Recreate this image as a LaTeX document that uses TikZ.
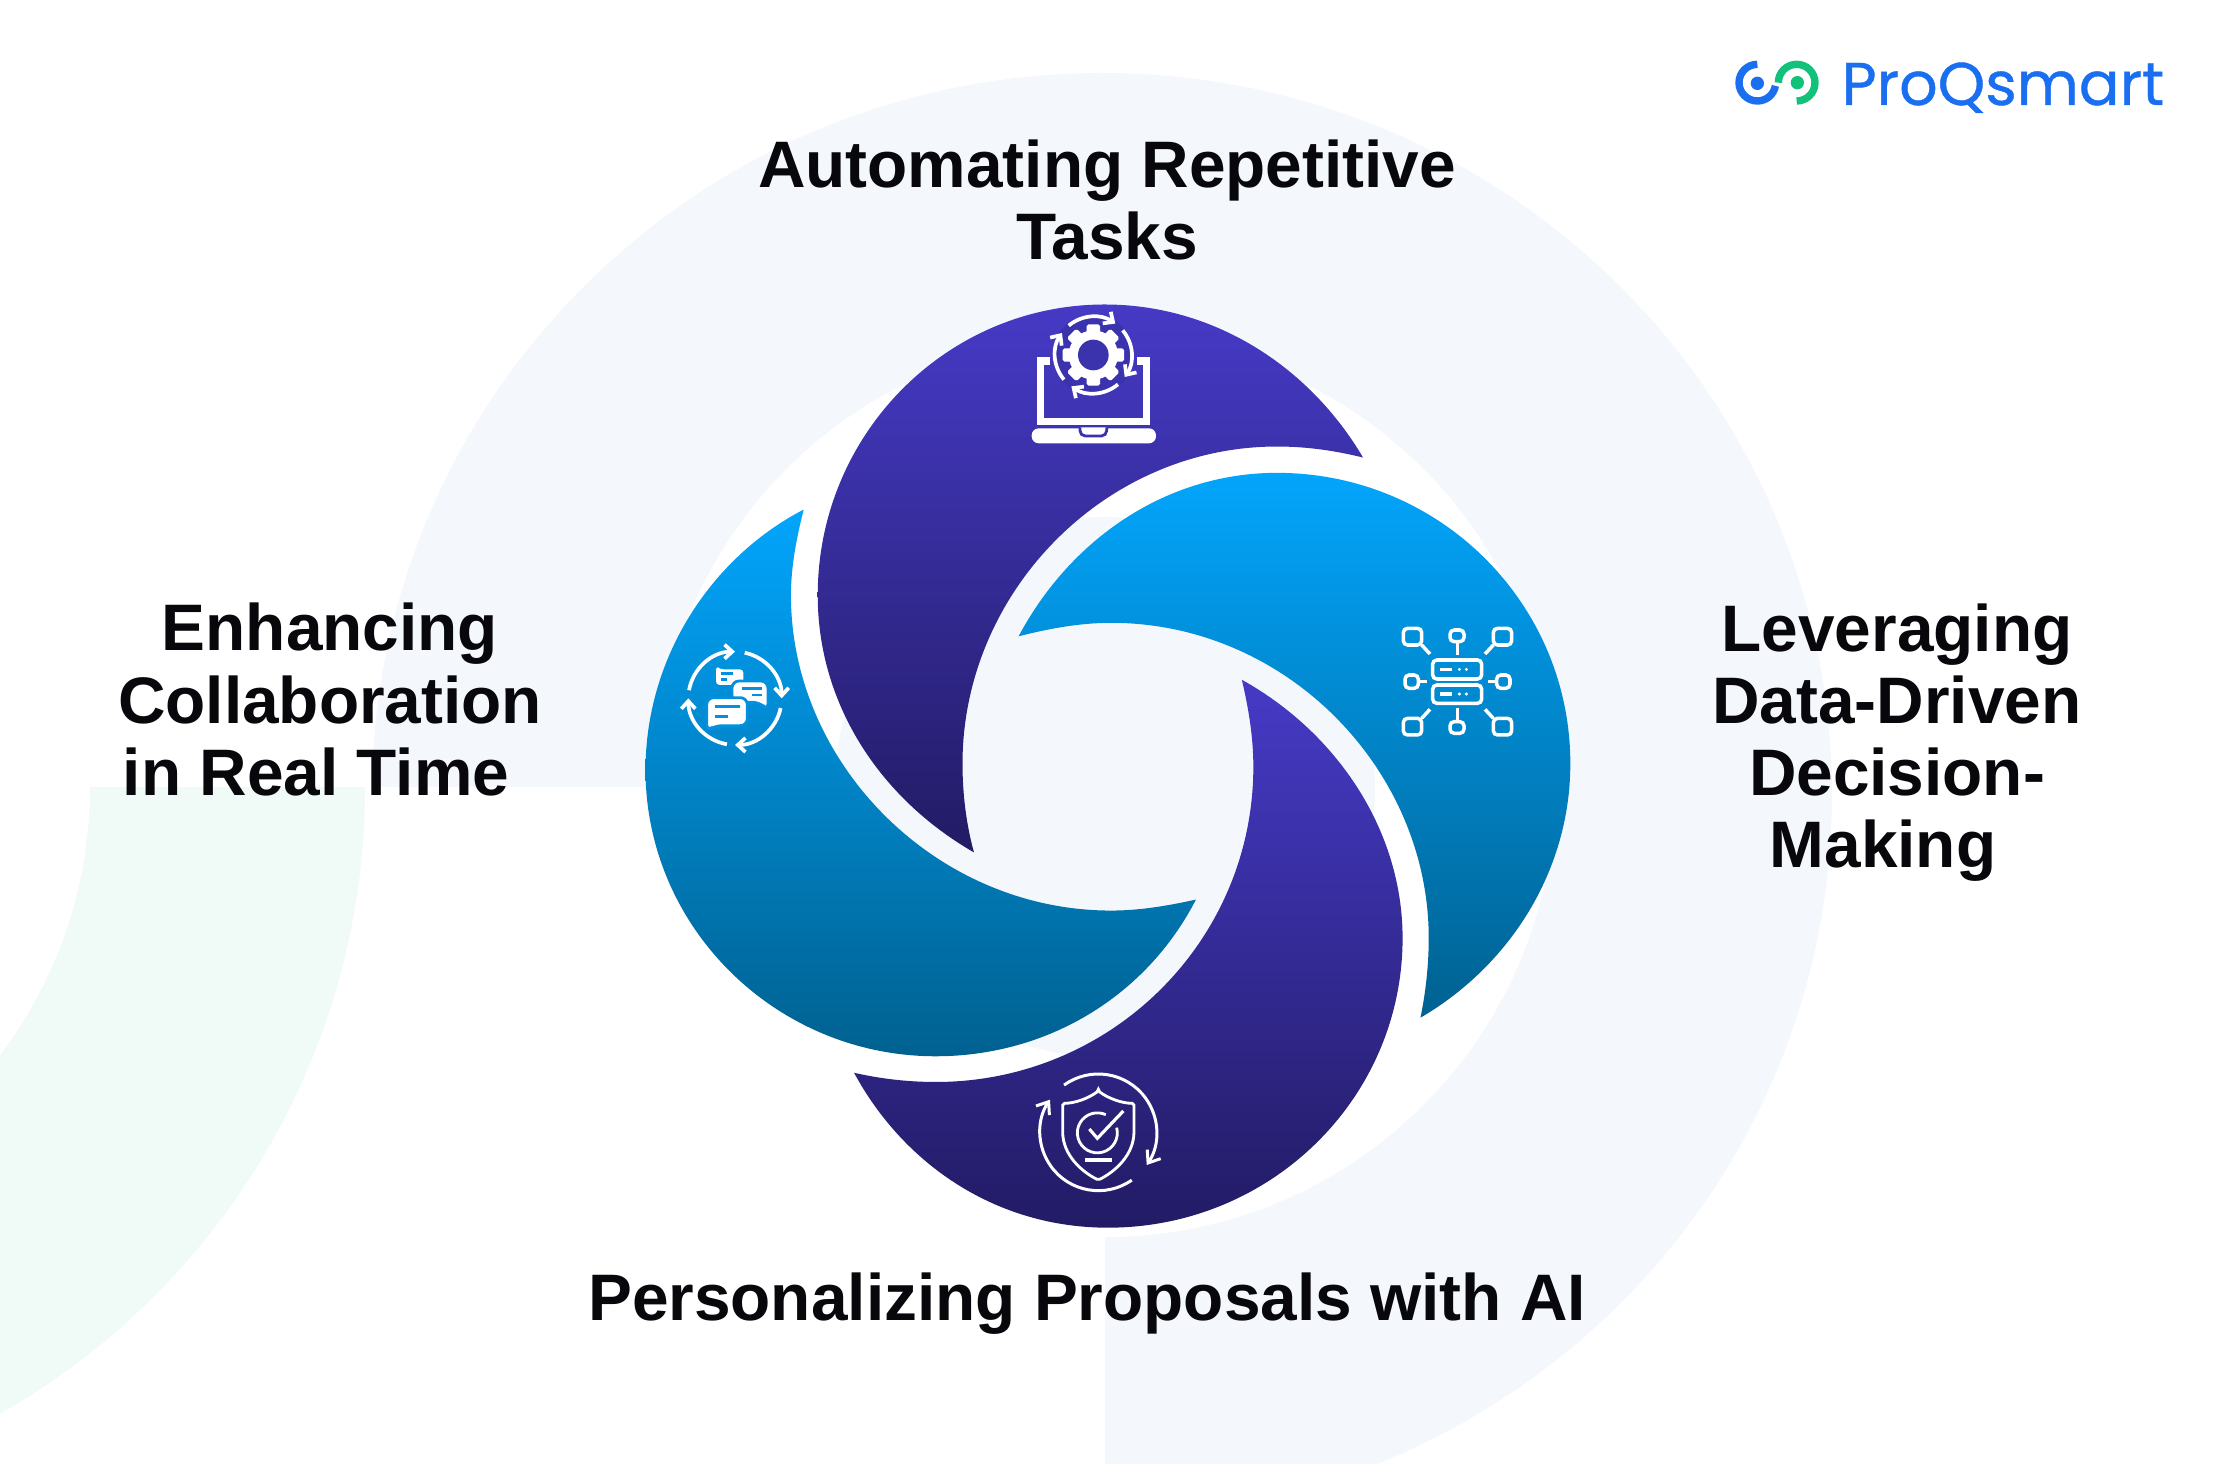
\documentclass[tikz,border=0pt]{standalone}
\usepackage{fontspec}
\setmainfont{Liberation Sans}
\newfontfamily\logofont[FakeBold=0.7]{Poppins}
\usepackage{xcolor}
\usetikzlibrary{arrows.meta}
\definecolor{palebg}{HTML}{F4F8FD}
\definecolor{greenbg}{HTML}{F0FAF7}
\definecolor{purplehi}{HTML}{463AC6}
\definecolor{purplelo}{HTML}{221B64}
\definecolor{cyanhi}{HTML}{02A5FC}
\definecolor{cyanlo}{HTML}{006190}
\definecolor{cyanmid}{HTML}{0490DE}
\definecolor{purplemid}{HTML}{3B32AE}
\definecolor{logoblue}{HTML}{1A6EF0}
\definecolor{logogreen}{HTML}{12C27A}
\definecolor{ink}{HTML}{08080C}
\tikzset{
  lab/.style={text=ink, font=\bfseries\fontsize{18.7}{20.5}\selectfont, align=center, inner sep=0pt},
  purpleblob/.style={top color=purplehi, bottom color=purplelo},
  cyanblob/.style={top color=cyanhi, bottom color=cyanlo},
  hub/.style={shift={(620,280)}, xscale=0.6378, yscale=0.6122},
  icon/.style={shift={#1}, scale=0.3333},
  heavyline/.style={draw=white, line width=2.1pt},
  iconline/.style={draw=white, line width=1pt, rounded corners=1.2pt},
  circarrow/.style={draw=white, line width=1.05pt, -{Straight Barb[length=2.2pt,width=4pt]}},
  thinarrow/.style={draw=white, line width=0.85pt, -{Straight Barb[length=3pt,width=4.6pt]}},
}
\begin{document}
\begin{tikzpicture}[x=0.01cm, y=-0.01cm]
  \useasboundingbox (0,0) rectangle (2215,1464);
  \clip (0,0) rectangle (2215,1464);
  % background rings
  \fill[palebg] (1102,795) ellipse [x radius=730, y radius=722];
  \fill[white] (0,787) rectangle (1105,1464);
  \fill[greenbg] (365,787) arc[start angle=0, end angle=90, radius=720]
    -- (-355,1232) arc[start angle=90, end angle=0, radius=445] -- cycle;
  \fill[white] (1105,787) circle [radius=450];
  \fill[palebg] (1105,787) circle [radius=270];
  % four blobs
  \begin{scope}[hub]
    \shade[purpleblob] (1165,290) .. controls (1080,140) and (930,40) .. (760,40)
      .. controls (512,40) and (310,252) .. (310,515)
      .. controls (310,690) and (405,845) .. (555,935)
      .. controls (543,890) and (537,840) .. (537,790)
      .. controls (537,510) and (760,272) .. (1030,272)
      .. controls (1078,272) and (1122,279) .. (1165,290) -- cycle;
    \shade[cyanblob] (625,582) .. controls (705,425) and (855,315) .. (1030,315)
      .. controls (1285,315) and (1490,528) .. (1490,790)
      .. controls (1490,965) and (1395,1120) .. (1255,1205)
      .. controls (1263,1165) and (1268,1120) .. (1268,1075)
      .. controls (1268,800) and (1045,560) .. (770,560)
      .. controls (720,560) and (670,570) .. (625,582) -- cycle;
    \shade[purpleblob] (975,653) .. controls (1125,740) and (1227,900) .. (1227,1075)
      .. controls (1227,1337) and (1020,1548) .. (765,1548)
      .. controls (590,1548) and (445,1445) .. (367,1295)
      .. controls (410,1305) and (452,1310) .. (495,1310)
      .. controls (770,1310) and (993,1080) .. (993,795)
      .. controls (993,745) and (985,698) .. (975,653) -- cycle;
    \shade[cyanblob] (288,375) .. controls (140,455) and (40,620) .. (40,800)
      .. controls (40,1058) and (245,1268) .. (495,1268)
      .. controls (670,1268) and (825,1170) .. (903,1012)
      .. controls (860,1022) and (815,1030) .. (770,1030)
      .. controls (495,1030) and (268,790) .. (268,515)
      .. controls (268,468) and (277,420) .. (288,375) -- cycle;
  \end{scope}
  % laptop with gear
  \begin{scope}[icon={(1000,290)}]
    \draw[heavyline] (150,213) -- (121,213) -- (121,395) -- (439,395) -- (439,213) -- (410,213);
    \fill[white, rounded corners=2pt] (95,415) -- (468,415) -- (468,460) -- (95,460) -- cycle;
    \draw[draw=purplemid, fill=white, line width=0.8pt, rounded corners=1.5pt] (240,412) -- (240,438) -- (320,438) -- (320,412);
    \fill[purplemid] (280,195) circle [radius=122];
    \begin{scope}[shift={(280,195)}]
      \foreach \a in {0,45,...,315}
        \fill[white, rotate=\a, rounded corners=0.5pt] (-20,-92) rectangle (20,0);
      \fill[white] (0,0) circle [radius=74];
      \fill[purplemid] (0,0) circle [radius=46];
      \foreach \a in {230,320,50,140}
        \draw[circarrow] (\a:115) arc[start angle=\a, delta angle=75, radius=115];
    \end{scope}
  \end{scope}
  % server with linked boxes
  \begin{scope}[icon={(1380,600)}]
    \draw[iconline] (158,180) rectangle (305,237);
    \draw[iconline] (158,255) rectangle (305,310);
    \draw[iconline] (180,208) -- (215,208);
    \draw[iconline] (180,282) -- (215,282);
    \foreach \y in {208,282} {
      \fill[white] (238,\y) circle [radius=5];
      \fill[white] (259,\y) circle [radius=5];
    }
    \draw[iconline] (70,85) rectangle (125,135);
    \draw[iconline] (210,90) rectangle (252,125);
    \draw[iconline] (340,85) rectangle (395,135);
    \draw[iconline] (75,225) rectangle (115,265);
    \draw[iconline] (350,225) rectangle (390,265);
    \draw[iconline] (70,355) rectangle (125,405);
    \draw[iconline] (210,365) rectangle (252,400);
    \draw[iconline] (340,355) rectangle (395,405);
    \draw[iconline] (125,135) -- (150,162);
    \draw[iconline] (232,125) -- (232,165);
    \draw[iconline] (340,135) -- (315,162);
    \draw[iconline] (115,245) -- (140,245);
    \draw[iconline] (350,245) -- (325,245);
    \draw[iconline] (125,355) -- (150,328);
    \draw[iconline] (232,365) -- (232,325);
    \draw[iconline] (340,355) -- (315,328);
  \end{scope}
  % chat bubbles in a loop of arrows
  \begin{scope}[icon={(660,630)}]
    \begin{scope}[shift={(225,205)}]
      \foreach \a/\d in {190/80,282/78,12/78,100/80}
        \draw[circarrow] (\a:140) arc[start angle=\a, delta angle=\d, radius=140];
    \end{scope}
    \fill[white, rounded corners=1pt] (168,108) -- (180,118) -- (250,118) -- (250,165) -- (168,165) -- cycle;
    \draw[draw=cyanmid, line width=0.7pt] (182,130) -- (218,130);
    \draw[draw=cyanmid, line width=0.7pt] (182,148) -- (200,148);
    \draw[draw=cyanmid, fill=white, line width=0.8pt, rounded corners=2pt] (216,153) -- (324,153) -- (324,242) -- (300,217) -- (216,217) -- cycle;
    \draw[draw=cyanmid, line width=0.7pt] (245,175) -- (305,175);
    \draw[draw=cyanmid, line width=0.7pt] (275,195) -- (305,195);
    \draw[draw=cyanmid, fill=white, line width=0.8pt, rounded corners=2pt] (140,203) -- (262,203) -- (262,287) -- (165,287) -- (140,304) -- cycle;
    \draw[draw=cyanmid, line width=0.7pt] (165,230) -- (240,230);
    \draw[draw=cyanmid, line width=0.7pt] (165,260) -- (205,260);
  \end{scope}
  % shield with check
  \begin{scope}[icon={(1010,1055)}]
    \begin{scope}[shift={(265,232)}]
      \draw[thinarrow] (234:175) arc[start angle=234, end angle=394, radius=175];
      \draw[thinarrow] (55:175) arc[start angle=55, end angle=214, radius=175];
    \end{scope}
    \draw[iconline, line width=0.8pt, rounded corners=0.5pt] (265,108) .. controls (235,130) and (195,145) .. (158,145)
      -- (158,225) .. controls (158,300) and (215,350) .. (265,375)
      .. controls (315,350) and (372,300) .. (372,225) -- (372,145)
      .. controls (335,145) and (295,130) .. (265,108) -- cycle;
    \draw[draw=white, line width=0.8pt] (320,218) arc[start angle=-15, end angle=295, radius=60];
    \draw[draw=white, line width=0.9pt] (238,222) -- (262,250) -- (340,168);
    \draw[draw=white, line width=0.9pt] (225,315) -- (305,315);
  \end{scope}
  % logo
  \begin{scope}[icon={(1720,40)}]
    \draw[draw=logoblue, line width=2.1pt] (112,73) arc[start angle=270, end angle=10, radius=55];
    \fill[logoblue] (112,130) circle [radius=20];
    \draw[draw=logogreen, line width=2.1pt] (175,128) arc[start angle=180, end angle=450, radius=55];
    \fill[logogreen] (232,128) circle [radius=20];
  \end{scope}
  \node[anchor=base west, inner sep=0pt, text=logoblue] (logo) at (1841,105) {\logofont\fontsize{17.15}{20}\selectfont ProQsmart};
  % labels
  \node[lab] (automating) at (1107,200) {Automating Repetitive\\Tasks};
  \node[lab] (enhancing) at (330,699.5) {Enhancing\\Collaboration\\in Real Time\kern 0.28cm};
  \node[lab] (leveraging) at (1897,743) {Leveraging\\Data-Driven\\Decision-\\Making\kern 0.28cm};
  \node[lab] (personalizing) at (1087,1304) {Personalizing Proposals with AI};
\end{tikzpicture}
\end{document}
